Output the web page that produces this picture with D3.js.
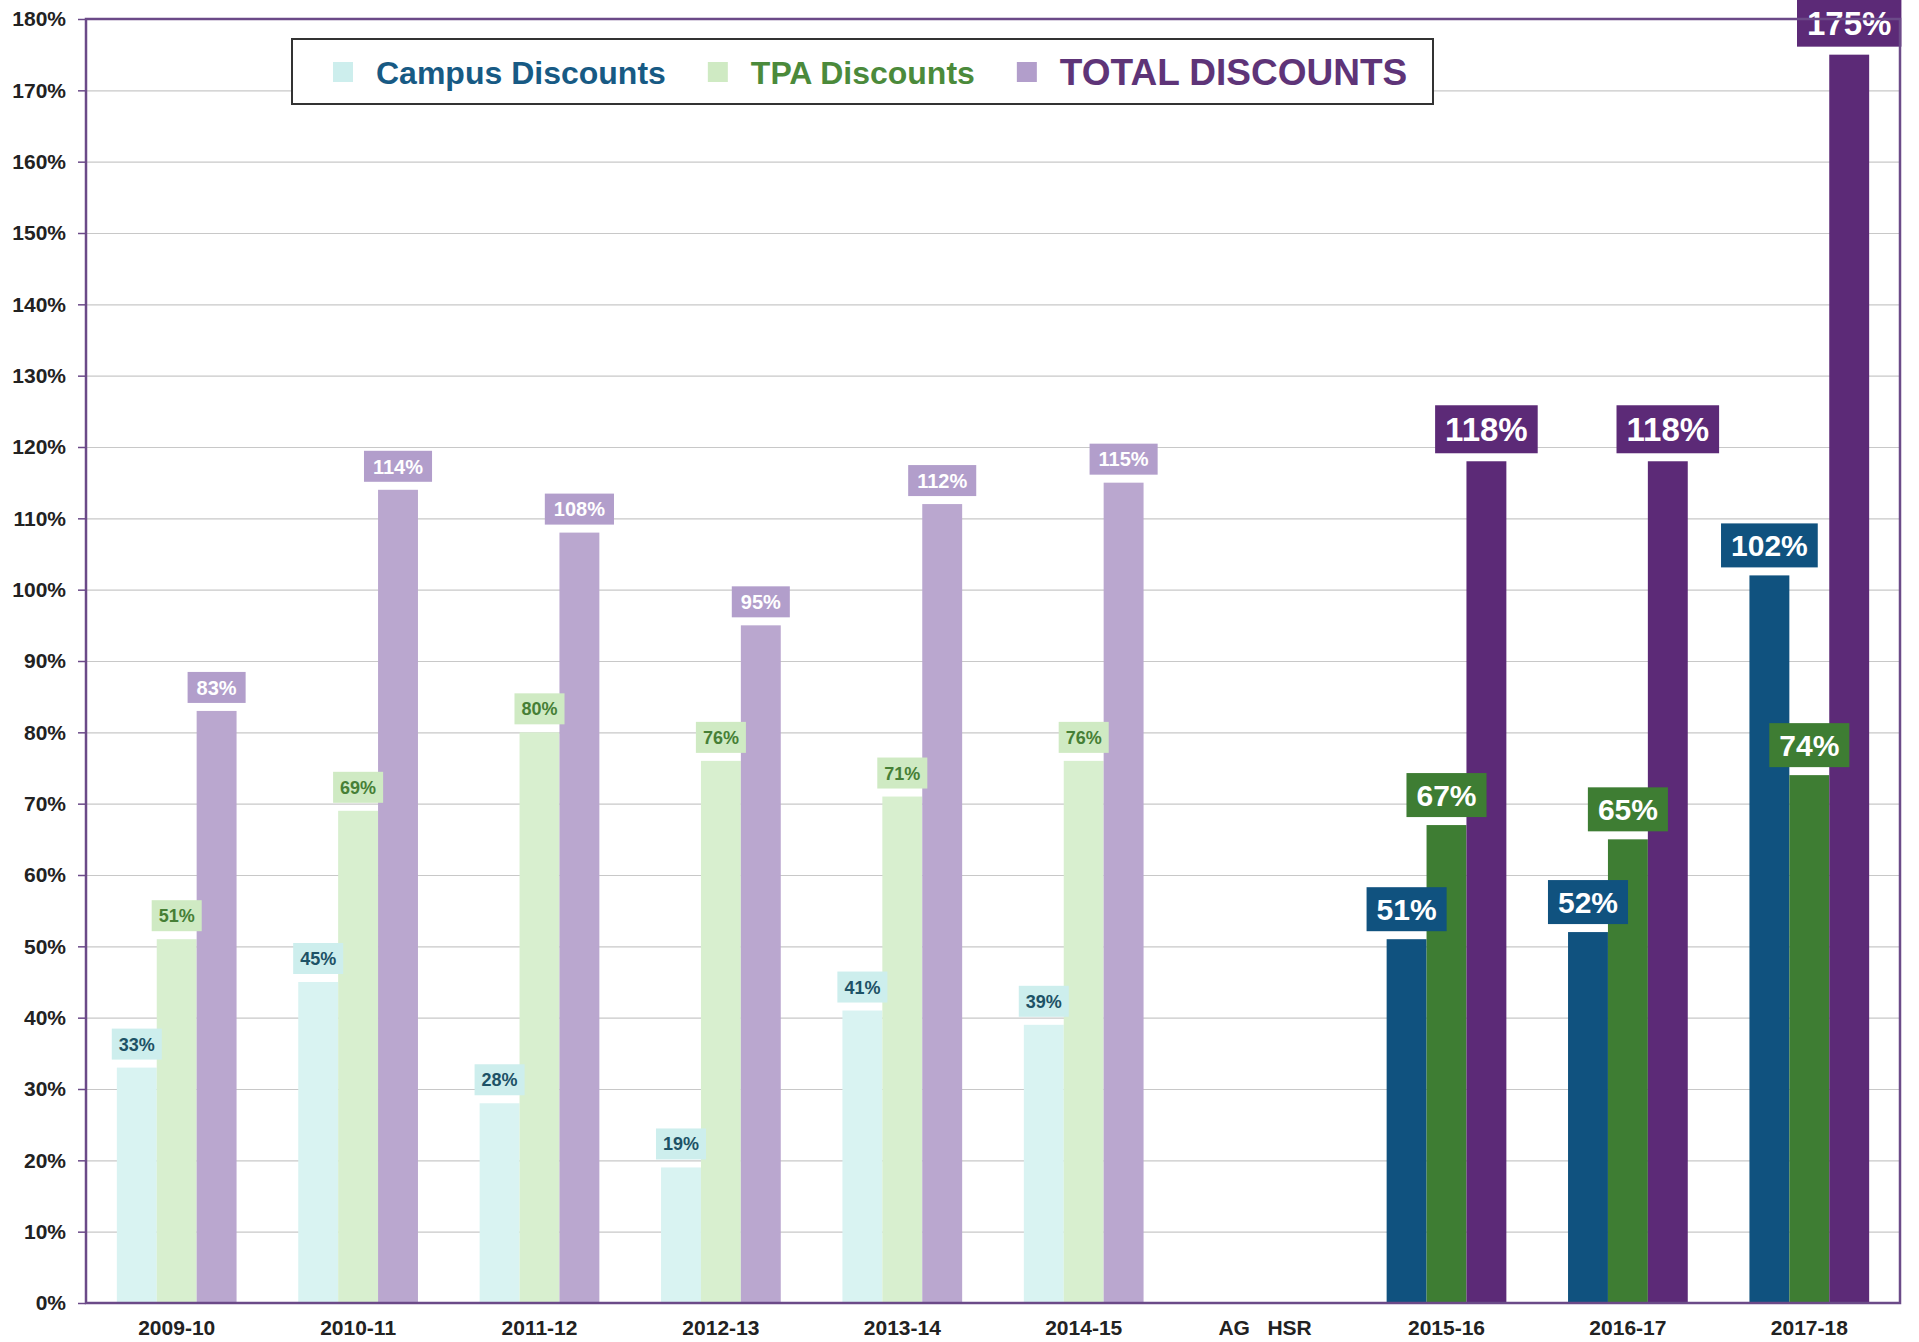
<!DOCTYPE html>
<html>
<head>
<meta charset="utf-8">
<script src="https://cdn.jsdelivr.net/npm/d3@7"></script>
<style>
body { margin: 0; background: #fff; }
text { font-family: "Liberation Sans", Arial, sans-serif; font-weight: bold; white-space: pre; }
</style>
</head>
<body>
<div id="chart-area"></div>
<script>
// data
const categories = ["2009-10", "2010-11", "2011-12", "2012-13", "2013-14", "2014-15", "AG   HSR", "2015-16", "2016-17", "2017-18"]
const campusDiscounts = [33, 45, 28, 19, 41, 39, null, 51, 52, 102]
const tpaDiscounts = [51, 69, 80, 76, 71, 76, null, 67, 65, 74]
const totalDiscounts = [83, 114, 108, 95, 112, 115, null, 118, 118, 175]
const seriesNames = ["Campus Discounts", "TPA Discounts", "TOTAL DISCOUNTS"]
const yTickValues = [0, 10, 20, 30, 40, 50, 60, 70, 80, 90, 100, 110, 120, 130, 140, 150, 160, 170, 180]

const WIDTH = 1919
const HEIGHT = 1342
const PLOT = { LEFT: 86, RIGHT: 1900, TOP: 19, BOTTOM: 1303 }

// colours: pale for the years before AG HSR, dark after
const LIGHT = ["#d9f3f2", "#d8efcf", "#baa7cf"]
const DARK = ["#10527f", "#3e7d33", "#5c2a77"]
const LIGHT_BOX = ["#cdeeed", "#cfeac3", "#b29ecb"]
const LIGHT_TEXT = ["#1d5266", "#467f36", "#ffffff"]
const LEGEND_TEXT = ["#175a84", "#4b8a3b", "#5e3478"]
const LEGEND_SIZE = [32, 32, 37]
const LABEL_FONT_LIGHT = [18, 18, 20]
const LABEL_FONT_DARK = [30, 30, 33]
const BORDER = "#6b4a88"

const series = [campusDiscounts, tpaDiscounts, totalDiscounts]
const splitIndex = categories.indexOf("AG   HSR")

const svg = d3.select('#chart-area')
	.append("svg")
	.attr("width", WIDTH)
	.attr("height", HEIGHT)

const x0 = d3.scaleBand()
	.domain(categories)
	.range([PLOT.LEFT, PLOT.RIGHT])
	.paddingInner(0.34)
	.paddingOuter(0.17)

const x1 = d3.scaleBand()
	.domain([0, 1, 2])
	.range([0, x0.bandwidth()])

const y = d3.scaleLinear()
	.domain([0, 180])
	.range([PLOT.BOTTOM, PLOT.TOP])

// gridlines
svg.append("g")
	.attr("transform", `translate(${PLOT.LEFT},0)`)
	.call(d3.axisLeft(y).tickValues(yTickValues).tickSize(-(PLOT.RIGHT - PLOT.LEFT)).tickFormat(""))
	.call(g => g.select(".domain").remove())
	.call(g => g.selectAll("line").attr("stroke", "#c8c8c8").attr("stroke-width", 1.2))

// flatten to one record per bar
const bars = []
categories.forEach((cat, i) => {
	series.forEach((vals, s) => {
		if (vals[i] == null) return
		bars.push({ cat, s, value: vals[i], dark: i > splitIndex })
	})
})

svg.append("g").selectAll("rect")
	.data(bars)
	.enter()
	.append("rect")
	.attr("x", d => x0(d.cat) + x1(d.s))
	.attr("y", d => y(d.value))
	.attr("width", x1.bandwidth())
	.attr("height", d => y(0) - y(d.value))
	.attr("fill", d => d.dark ? DARK[d.s] : LIGHT[d.s])

// value labels in boxes above bars
const labels = svg.append("g").selectAll("g")
	.data(bars)
	.enter()
	.append("g")

labels.each(function (d) {
	const g = d3.select(this)
	const fs = d.dark ? LABEL_FONT_DARK[d.s] : LABEL_FONT_LIGHT[d.s]
	const bh = d.dark ? (d.s == 2 ? 48 : 44) : 31
	const pad = d.dark ? 10 : (d.s == 2 ? 9 : 7)
	const cx = x0(d.cat) + x1(d.s) + x1.bandwidth() / 2
	const bottom = y(d.value) - 8
	const rect = g.append("rect")
	const t = g.append("text")
		.attr("x", cx)
		.attr("y", bottom - bh / 2 + fs * 0.36)
		.attr("text-anchor", "middle")
		.style("font-size", fs + "px")
		.attr("fill", d.dark ? "#ffffff" : LIGHT_TEXT[d.s])
		.text(d.value + "%")
	const w = t.node().getComputedTextLength() + pad * 2
	rect.attr("x", cx - w / 2)
		.attr("y", bottom - bh)
		.attr("width", w)
		.attr("height", bh)
		.attr("fill", d.dark ? DARK[d.s] : LIGHT_BOX[d.s])
})

// y axis
const yAxis = svg.append("g")
	.attr("transform", `translate(${PLOT.LEFT},0)`)
	.call(d3.axisLeft(y).tickValues(yTickValues).tickSize(8).tickSizeOuter(0).tickPadding(12).tickFormat(d => d + "%"))
yAxis.select(".domain").remove()
yAxis.selectAll("line").attr("stroke", BORDER).attr("stroke-width", 1.5)
yAxis.selectAll("text").style("font-size", "21px").attr("fill", "#222")

// x axis labels
const xAxis = svg.append("g")
	.attr("transform", `translate(0,${PLOT.BOTTOM})`)
	.call(d3.axisBottom(x0).tickSize(0).tickPadding(17))
xAxis.select(".domain").remove()
xAxis.selectAll("text").style("font-size", "21px").attr("fill", "#222")

// plot frame
svg.append("rect")
	.attr("x", PLOT.LEFT)
	.attr("y", PLOT.TOP)
	.attr("width", PLOT.RIGHT - PLOT.LEFT)
	.attr("height", PLOT.BOTTOM - PLOT.TOP)
	.attr("fill", "none")
	.attr("stroke", BORDER)
	.attr("stroke-width", 2.5)

// legend
const legend = svg.append("g")
legend.append("rect")
	.attr("x", 292)
	.attr("y", 39)
	.attr("width", 1141)
	.attr("height", 65)
	.attr("fill", "#fff")
	.attr("stroke", "#333")
	.attr("stroke-width", 2)

let lx = 333
const ly = 72
seriesNames.forEach((name, s) => {
	legend.append("rect")
		.attr("x", lx)
		.attr("y", ly - 10)
		.attr("width", 20)
		.attr("height", 20)
		.attr("fill", LIGHT_BOX[s])
	lx += 20 + 23
	const t = legend.append("text")
		.attr("x", lx)
		.attr("y", ly + LEGEND_SIZE[s] * 0.36)
		.style("font-size", LEGEND_SIZE[s] + "px")
		.attr("fill", LEGEND_TEXT[s])
		.text(name)
	lx += t.node().getComputedTextLength() + 42
})
</script>
</body>
</html>
